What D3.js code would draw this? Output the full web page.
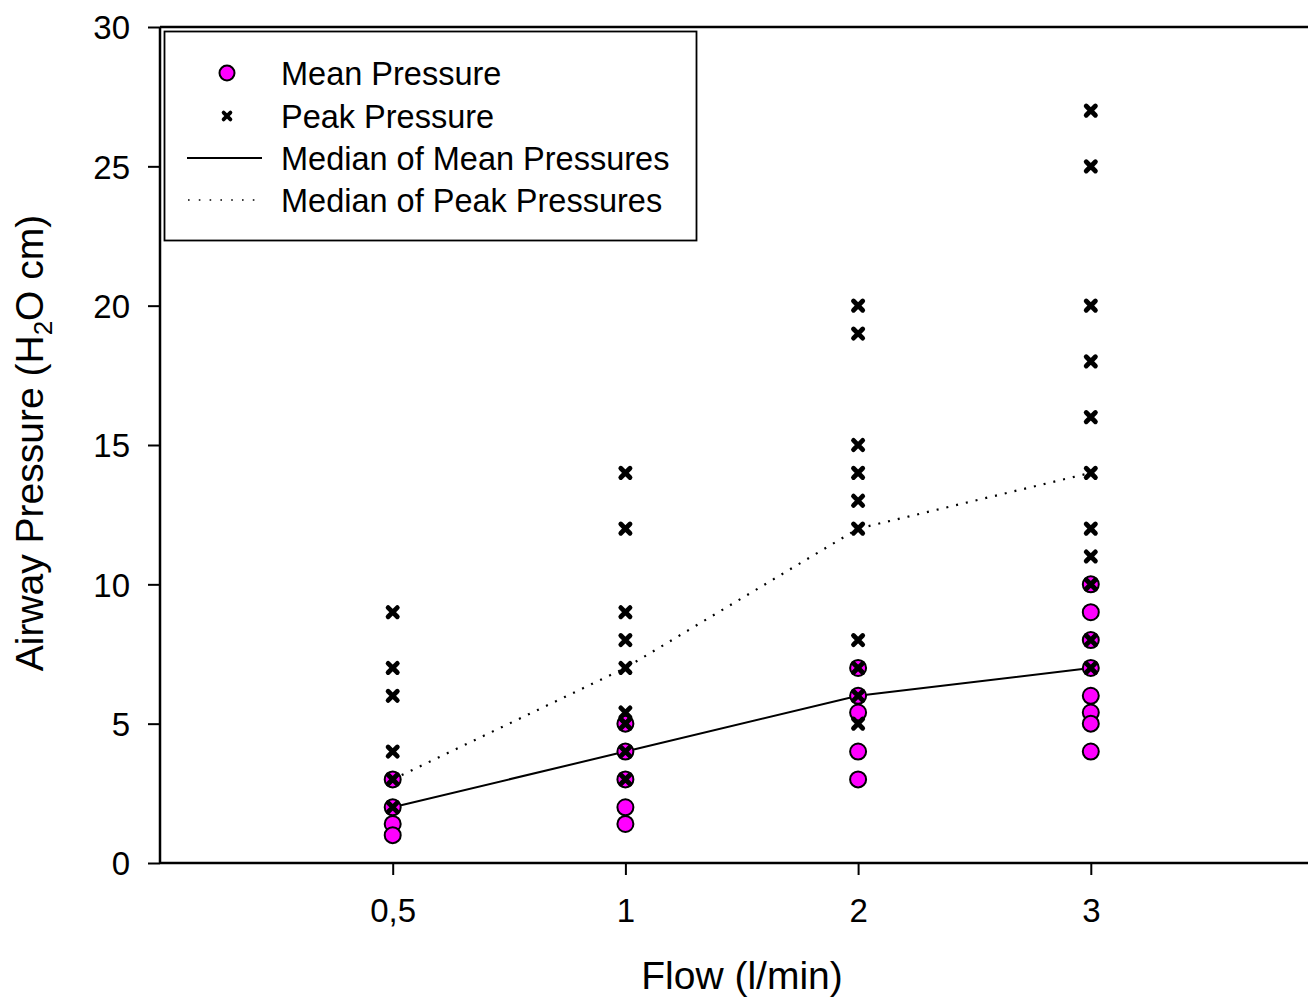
<!DOCTYPE html>
<html>
<head>
<meta charset="utf-8">
<script src="https://cdn.jsdelivr.net/npm/d3@7/dist/d3.min.js"></script>
<style>
  html, body { margin: 0; padding: 0; background: #fff; }
  svg { display: block; }
  text { font-family: "Liberation Sans", Arial, sans-serif; fill: #000; }
</style>
</head>
<body>
<svg id="chart" width="1308" height="1003"></svg>
<script>
// ---- Data ----
const flows = ["0,5", "1", "2", "3"];
const meanPressure = [
  [3, 2, 1.4, 1],
  [5, 4, 3, 2, 1.4],
  [7, 6, 5.4, 4, 3],
  [10, 9, 8, 7, 6, 5.4, 5, 4]
];
const peakPressure = [
  [9, 7, 6, 4, 3, 2],
  [14, 12, 9, 8, 7, 5.4, 5, 4, 3],
  [20, 19, 15, 14, 13, 12, 8, 7, 6, 5],
  [27, 25, 20, 18, 16, 14, 12, 11, 10, 8, 7]
];
const medianMean = [2, 4, 6, 7];
const medianPeak = [3, 7, 12, 14];
const yTicks = [0, 5, 10, 15, 20, 25, 30];
const legendLabels = ["Mean Pressure", "Peak Pressure", "Median of Mean Pressures", "Median of Peak Pressures"];

// ---- Layout ----
const svg = d3.select("#chart");
const mLeft = 160, mTop = 27, mBottom = 863;
const x = d3.scaleLinear().domain([-1, 4]).range([mLeft, mLeft + 5 * 232.7]);
const y = d3.scaleLinear().domain([0, 30]).range([mBottom, mTop]);

const magenta = "#ff00ff";

// Axes
const yAxis = d3.axisLeft(y).tickValues(yTicks).tickSize(12).tickPadding(18).tickFormat(d3.format("d"));
const gy = svg.append("g").attr("transform", `translate(${mLeft},0)`).call(yAxis);
gy.select(".domain").attr("stroke-width", 2.5).attr("d", `M0,${mTop}V${mBottom}`);
gy.selectAll(".tick line").attr("stroke-width", 2);
gy.selectAll(".tick text").style("font-size", "33px").attr("dy", "0.36em");

const xAxis = d3.axisBottom(x).tickValues([0, 1, 2, 3]).tickSize(12).tickPadding(24)
  .tickFormat(i => flows[i]);
const gx = svg.append("g").attr("transform", `translate(0,${mBottom})`).call(xAxis);
gx.select(".domain").attr("stroke-width", 2.5).attr("d", `M${mLeft},0H1308`);
gx.selectAll(".tick line").attr("stroke-width", 2);
gx.selectAll(".tick text").style("font-size", "33px").attr("dy", "0.71em");

// Top frame line
svg.append("line").attr("x1", mLeft).attr("x2", 1308).attr("y1", mTop).attr("y2", mTop)
  .attr("stroke", "#000").attr("stroke-width", 2.5);

// Median lines
const line = d3.line().x((d, i) => x(i)).y(d => y(d));
svg.append("path").datum(medianMean).attr("d", line)
  .attr("fill", "none").attr("stroke", "#000").attr("stroke-width", 2);
svg.append("path").datum(medianPeak).attr("d", line)
  .attr("fill", "none").attr("stroke", "#000").attr("stroke-width", 2.2)
  .attr("stroke-dasharray", "2 8").attr("stroke-linecap", "butt");

// Mean pressure circles
const meanPts = meanPressure.flatMap((arr, i) => arr.map(v => ({ i, v })));
svg.append("g").selectAll("circle").data(meanPts).join("circle")
  .attr("cx", d => x(d.i)).attr("cy", d => y(d.v)).attr("r", 8)
  .attr("fill", magenta).attr("stroke", "#000").attr("stroke-width", 2);

// Peak pressure crosses
const peakPts = peakPressure.flatMap((arr, i) => arr.map(v => ({ i, v })));
const xs = 4.6;
svg.append("g").selectAll("path").data(peakPts).join("path")
  .attr("transform", d => `translate(${x(d.i)},${y(d.v)})`)
  .attr("d", `M${-xs},${-xs}L${xs},${xs}M${xs},${-xs}L${-xs},${xs}`)
  .attr("stroke", "#000").attr("stroke-width", 4.8).attr("stroke-linecap", "round").attr("fill", "none");

// Legend
const lg = svg.append("g");
lg.append("rect").attr("x", 164.5).attr("y", 31.5).attr("width", 532).attr("height", 209)
  .attr("fill", "#fff").attr("stroke", "#000").attr("stroke-width", 1.8);
const rowY = [73, 116, 158, 200];
lg.append("circle").attr("cx", 227).attr("cy", rowY[0]).attr("r", 7.5)
  .attr("fill", magenta).attr("stroke", "#000").attr("stroke-width", 2);
const ls = 3.4;
lg.append("path").attr("transform", `translate(227,${rowY[1]})`)
  .attr("d", `M${-ls},${-ls}L${ls},${ls}M${ls},${-ls}L${-ls},${ls}`)
  .attr("stroke", "#000").attr("stroke-width", 3.8).attr("stroke-linecap", "round");
lg.append("line").attr("x1", 187).attr("x2", 262).attr("y1", rowY[2]).attr("y2", rowY[2])
  .attr("stroke", "#000").attr("stroke-width", 2);
lg.append("line").attr("x1", 188).attr("x2", 262).attr("y1", rowY[3]).attr("y2", rowY[3])
  .attr("stroke", "#000").attr("stroke-width", 1.6).attr("stroke-dasharray", "1.6 9.2");
lg.selectAll("text.lab").data(legendLabels).join("text").attr("class", "lab")
  .attr("x", 281).attr("y", (d, i) => rowY[i]).attr("dy", "0.36em")
  .style("font-size", "32.5px").text(d => d);

// Axis titles
svg.append("text").attr("x", 742).attr("y", 989).attr("text-anchor", "middle")
  .style("font-size", "39px").text("Flow (l/min)");
const yt = svg.append("text").attr("transform", "translate(43,443) rotate(-90)")
  .attr("text-anchor", "middle").style("font-size", "39px");
yt.append("tspan").text("Airway Pressure (H");
yt.append("tspan").attr("dy", 9).style("font-size", "26px").text("2");
yt.append("tspan").attr("dy", -9).text("O cm)");
</script>
</body>
</html>
